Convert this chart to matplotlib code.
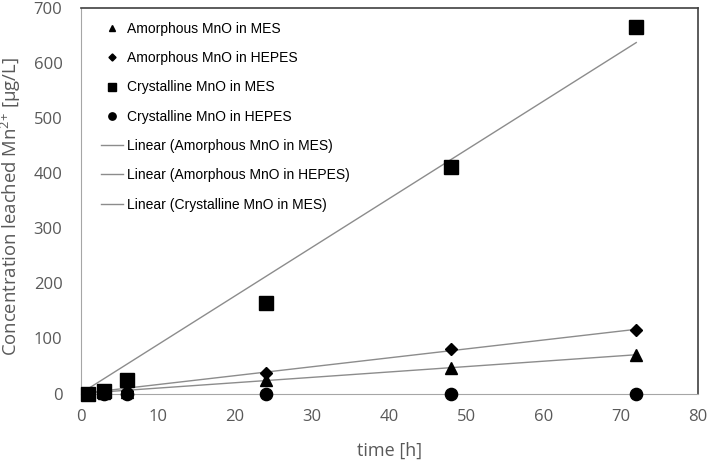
import numpy as np
import matplotlib
matplotlib.use("Agg")
import matplotlib.pyplot as plt

plt.rcParams["mathtext.fontset"] = "custom"
plt.rcParams["mathtext.rm"] = "Open Sans"
plt.rcParams["mathtext.it"] = "Open Sans"

# data
time_h = [1, 3, 6, 24, 48, 72]
amorph_mes = [0, 1, 3, 25, 47, 70]
amorph_hepes = [0, 2, 5, 37, 80, 116]
cryst_mes = [0, 5, 25, 165, 410, 665]
cryst_hepes = [-1, -1, -1, -1, -1, -1]

x_ticks = [0, 10, 20, 30, 40, 50, 60, 70, 80]
y_ticks = [0, 100, 200, 300, 400, 500, 600, 700]

_GRAY_TXT = "#595959"
_TREND_KW = dict(color="#8c8c8c", linewidth=1.0)

fig = plt.figure(figsize=(7.09, 4.62), dpi=100)
ax = fig.add_axes([80.5 / 709, 1 - 393.5 / 462, 617.5 / 709, 386 / 462])

t = np.array(time_h, dtype=float)
ax.plot(t, amorph_mes, linestyle="none", marker="^", color="black",
        markersize=8, label="Amorphous MnO in MES", zorder=3, clip_on=False)
ax.plot(t, amorph_hepes, linestyle="none", marker="D", color="black",
        markersize=6, label="Amorphous MnO in HEPES", zorder=3, clip_on=False)
ax.plot(t, cryst_mes, linestyle="none", marker="s", color="black",
        markersize=9.6, label="Crystalline MnO in MES", zorder=3, clip_on=False)
ax.plot(t, cryst_hepes, linestyle="none", marker="o", color="black",
        markersize=8.8, label="Crystalline MnO in HEPES", zorder=3, clip_on=False)

# linear trendlines, intercept fixed at zero (spreadsheet option)
for vals, name in [(amorph_mes, "Amorphous MnO in MES"),
                   (amorph_hepes, "Amorphous MnO in HEPES"),
                   (cryst_mes, "Crystalline MnO in MES")]:
    y = np.array(vals, dtype=float)
    k = np.sum(t * y) / np.sum(t * t)
    ax.plot([t[0], t[-1]], [k * t[0], k * t[-1]],
            label=f"Linear ({name})", zorder=2, **_TREND_KW)

ax.set_xlim(0, 80)
ax.set_ylim(0, 700)
ax.set_xticks(x_ticks)
ax.set_yticks(y_ticks)
ax.tick_params(length=0, labelsize=12, labelcolor=_GRAY_TXT)
ax.tick_params(axis="y", pad=13)
ax.tick_params(axis="x", pad=11)
for lbl in ax.get_xticklabels() + ax.get_yticklabels():
    lbl.set_family("Open Sans")
for side in ["left", "bottom"]:
    ax.spines[side].set_color("#a6a6a6")
for side in ["top", "right"]:
    ax.spines[side].set_color("#404040")
    ax.spines[side].set_linewidth(1.2)

ax.set_xlabel("time [h]", fontsize=13, color=_GRAY_TXT, family="Open Sans")
ax.xaxis.set_label_coords(0.5, -0.125)
ax.set_ylabel("Concentration leached Mn$^{2{+}}$ [µg/L]", fontsize=13.3,
              color=_GRAY_TXT, family="Open Sans")
ax.yaxis.set_label_coords(-0.093, 0.483)

ax.legend(loc="upper left", frameon=False,
          prop={"family": "Liberation Sans", "size": 10},
          labelspacing=1.1, handlelength=1.6, handletextpad=0.3,
          borderaxespad=0.5, markerscale=0.6, bbox_to_anchor=(0.013, 0.995))

fig.savefig("out.png", dpi=100)
